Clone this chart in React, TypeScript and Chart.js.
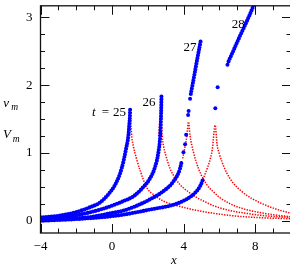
import React, { useEffect, useRef } from 'react';
import { Chart, registerables } from 'chart.js';

Chart.register(...registerables);

type P = [number, number];

// axis ticks
const xMajorTicks = [-4, 0, 4, 8];
const xMinorTicks = [-3, -2, -1, 1, 2, 3, 5, 6, 7, 9];
const yMajorTicks = [0, 1, 2, 3];
const yMinorTicks = [0.25, 0.5, 0.75, 1.25, 1.5, 1.75, 2.25, 2.5, 2.75];
const xMin = -4;
const xMax = 10;
const yMin = -0.18;
const yMax = 3.17;

// numerical solution V_m (blue dots)
const blue25: P[] = [[-4, 0.05], [-3.65, 0.055], [-2.72, 0.085], [-1.97, 0.13], [-1.23, 0.2], [-0.67, 0.27], [-0.21, 0.39], [0.17, 0.53], [0.45, 0.7], [0.63, 0.87], [0.78, 1.06], [0.91, 1.25], [0.97, 1.44], [1.0, 1.56], [1.01, 1.66]];
const blue26: P[] = [[-4, 0.035], [-3.09, 0.05], [-2.17, 0.075], [-1.23, 0.125], [-0.3, 0.195], [0.63, 0.29], [1.19, 0.36], [1.65, 0.47], [2.13, 0.63], [2.41, 0.8], [2.59, 1.01], [2.69, 1.25], [2.73, 1.49], [2.75, 1.7], [2.76, 1.84]];
const blue27Low: P[] = [[-4, 0.015], [-2.5, 0.03], [-1.23, 0.054], [-0.3, 0.1], [0.63, 0.15], [1.38, 0.222], [2.13, 0.318], [2.87, 0.437], [3.43, 0.58], [3.8, 0.77], [3.9, 0.89]];
const blue27Mid: P[] = [[3.99, 1.01], [4.08, 1.13], [4.14, 1.27], [4.25, 1.56], [4.28, 1.62], [4.36, 1.8]];
const blue27High: P[] = [[4.4, 1.87], [4.55, 2.08], [4.75, 2.37], [4.96, 2.66]];
const blue28Low: P[] = [[-4, 0.0], [-2, 0.025], [-0.3, 0.06], [0.63, 0.09], [1.38, 0.126], [2.31, 0.175], [3.24, 0.222], [3.99, 0.294], [4.55, 0.39], [4.92, 0.51], [5.11, 0.63]];
const blue28Mid: P[] = [[5.77, 1.66], [5.9, 1.97], [6.45, 2.3]];
const blue28High: P[] = [[6.51, 2.35], [6.8, 2.52], [7.07, 2.68], [7.44, 2.89], [7.9, 3.17], [8.0, 3.25]];

// analytic v_m (red dotted)
const red25: P[] = [[0.85, 1.2], [1.0, 1.58], [1.1, 1.24], [1.19, 1.1], [1.35, 0.93], [1.57, 0.74], [1.94, 0.49], [2.4, 0.37], [2.87, 0.29], [3.4, 0.24], [3.99, 0.198], [4.6, 0.16], [5.3, 0.126], [6.6, 0.079], [8.0, 0.05], [10, 0.03]];
const red26: P[] = [[2.6, 1.25], [2.72, 1.55], [2.8, 1.25], [2.87, 1.11], [3.0, 0.97], [3.24, 0.77], [3.5, 0.64], [3.8, 0.533], [4.25, 0.43], [4.74, 0.341], [5.2, 0.28], [5.67, 0.222], [6.6, 0.15], [7.5, 0.11], [8.5, 0.075], [10, 0.05]];
const red27: P[] = [[3.95, 0.92], [4.08, 1.1], [4.18, 1.25], [4.27, 1.46], [4.36, 1.25], [4.55, 1.01], [4.83, 0.77], [5.3, 0.53], [5.65, 0.43], [6.04, 0.34], [6.6, 0.25], [7.3, 0.18], [8.0, 0.135], [9.0, 0.09], [10, 0.06]];
const red28: P[] = [[4.9, 0.5], [5.11, 0.63], [5.3, 0.76], [5.44, 0.87], [5.6, 1.05], [5.76, 1.41], [5.87, 1.12], [6.0, 0.98], [6.14, 0.87], [6.4, 0.71], [6.76, 0.56], [7.26, 0.43], [7.8, 0.33], [8.5, 0.24], [9.2, 0.17], [10, 0.11]];

const BLUE = '#0000ff';
const RED = '#ff0000';
const SERIF = '"Liberation Serif", "Times New Roman", serif';

const xy = (arr: P[]) => arr.map(([x, y]) => ({ x, y }));

const denseBlue = (arr: P[]) => ({
  data: xy(arr),
  borderColor: BLUE,
  backgroundColor: BLUE,
  borderWidth: 4.1,
  borderDash: [0, 2.8],
  borderCapStyle: 'round' as const,
  pointRadius: 0,
  cubicInterpolationMode: 'monotone' as const,
  order: 0,
});

const sparseBlue = (arr: P[]) => ({
  data: xy(arr),
  showLine: false,
  pointRadius: 2,
  pointBorderWidth: 0,
  pointBackgroundColor: BLUE,
  borderColor: BLUE,
  order: 0,
});

const redDotted = (arr: P[]) => ({
  data: xy(arr),
  borderColor: RED,
  borderWidth: 1.5,
  borderDash: [1.4, 1.3],
  pointRadius: 0,
  cubicInterpolationMode: 'monotone' as const,
  order: 1,
});

const OY = 10; // canvas is shifted up by this many px

const decor = {
  id: 'decor',
  afterDatasetsDraw(chart: any) {
    const { ctx, chartArea: a } = chart;
    const xs = chart.scales.x;
    const ys = chart.scales.y;
    ctx.save();
    ctx.strokeStyle = '#111';
    ctx.lineWidth = 1;
    const MAJ = 9;
    const MIN = 4.5;
    const xt = (v: number, len: number) => {
      const p = Math.round(xs.getPixelForValue(v)) + 0.5;
      ctx.beginPath();
      ctx.moveTo(p, a.bottom);
      ctx.lineTo(p, a.bottom - len);
      ctx.moveTo(p, a.top);
      ctx.lineTo(p, a.top + len);
      ctx.stroke();
    };
    const yt = (v: number, len: number) => {
      const p = Math.round(ys.getPixelForValue(v)) + 0.5;
      ctx.beginPath();
      ctx.moveTo(a.left, p);
      ctx.lineTo(a.left + len, p);
      ctx.moveTo(a.right, p);
      ctx.lineTo(a.right - len, p);
      ctx.stroke();
    };
    xMajorTicks.forEach((v) => xt(v, MAJ));
    xMinorTicks.forEach((v) => xt(v, MIN));
    yMajorTicks.forEach((v) => yt(v, MAJ));
    yMinorTicks.forEach((v) => yt(v, MIN));
    ctx.lineWidth = 1.3;
    ctx.strokeRect(a.left, a.top, a.right - a.left, a.bottom - a.top);

    ctx.fillStyle = '#000';
    ctx.textBaseline = 'alphabetic';
    const up = `13px ${SERIF}`;
    const it = `italic 13px ${SERIF}`;
    const sub = `italic 9.5px ${SERIF}`;

    // t = 25
    const ax = xs.getPixelForValue(0.78);
    const ay = ys.getPixelForValue(1.54);
    ctx.font = up;
    ctx.textAlign = 'right';
    ctx.fillText('25', ax, ay);
    ctx.textAlign = 'center';
    ctx.fillText('=', ax - 20.5, ay);
    ctx.font = it;
    ctx.textAlign = 'right';
    ctx.fillText('t', ax - 30.5, ay);

    ctx.font = up;
    ctx.textAlign = 'center';
    ctx.fillText('26', xs.getPixelForValue(2.07), ys.getPixelForValue(1.695));
    ctx.fillText('27', xs.getPixelForValue(4.35), ys.getPixelForValue(2.497));
    ctx.fillText('28', xs.getPixelForValue(7.05), ys.getPixelForValue(2.845));

    // axis labels
    ctx.font = it;
    ctx.textAlign = 'center';
    ctx.fillText('x', 173.8, 264 + OY);
    ctx.textAlign = 'left';
    ctx.fillText('v', 3.3, 106.7 + OY);
    ctx.fillText('V', 3, 137.8 + OY);
    ctx.font = sub;
    ctx.fillText('m', 11.3, 109.6 + OY);
    ctx.fillText('m', 12.8, 141.6 + OY);
    ctx.restore();
  },
};

const fmt = (v: number) => (v < 0 ? '\u2212' + Math.abs(v) : String(v));

export default function App() {
  const ref = useRef<HTMLCanvasElement>(null);
  useEffect(() => {
    const canvas = ref.current!;
    const chart = new Chart(canvas, {
      type: 'line',
      data: {
        datasets: [
          denseBlue(blue25),
          denseBlue(blue26),
          denseBlue(blue27Low),
          sparseBlue(blue27Mid),
          denseBlue(blue27High),
          denseBlue(blue28Low),
          sparseBlue(blue28Mid),
          denseBlue(blue28High),
          redDotted(red25),
          redDotted(red26),
          redDotted(red27),
          redDotted(red28),
        ] as any,
      },
      options: {
        animation: false,
        responsive: false,
        devicePixelRatio: 1,
        events: [],
        layout: { padding: { top: 9, right: 9, left: 0, bottom: 0 } },
        plugins: { legend: { display: false }, tooltip: { enabled: false } },
        scales: {
          x: {
            type: 'linear',
            min: xMin,
            max: xMax,
            grid: { display: false, drawTicks: false },
            border: { display: false },
            afterBuildTicks: (s: any) => {
              s.ticks = xMajorTicks.map((value) => ({ value }));
            },
            afterFit: (s: any) => {
              s.height = 37;
            },
            ticks: {
              padding: 6,
              color: '#000',
              autoSkip: false,
              maxRotation: 0,
              font: { family: SERIF, size: 13 },
              callback: (v: any) => fmt(Number(v)),
            },
          },
          y: {
            type: 'linear',
            min: yMin,
            max: yMax,
            grid: { display: false, drawTicks: false },
            border: { display: false },
            afterBuildTicks: (s: any) => {
              s.ticks = yMajorTicks.map((value) => ({ value }));
            },
            afterFit: (s: any) => {
              s.width = 40.5;
            },
            ticks: {
              padding: 8,
              color: '#000',
              autoSkip: false,
              font: { family: SERIF, size: 13 },
              callback: (v: any) => fmt(Number(v)),
            },
          },
        },
      } as any,
      plugins: [decor],
    });
    return () => chart.destroy();
  }, []);
  return (
    <div style={{ position: 'fixed', left: 0, top: 0, width: 290, height: 268, overflow: 'hidden', background: '#fff' }}>
      <canvas
        ref={ref}
        width={300}
        height={280}
        style={{ position: 'absolute', left: 0, top: -OY, width: 300, height: 280 }}
      />
    </div>
  );
}
